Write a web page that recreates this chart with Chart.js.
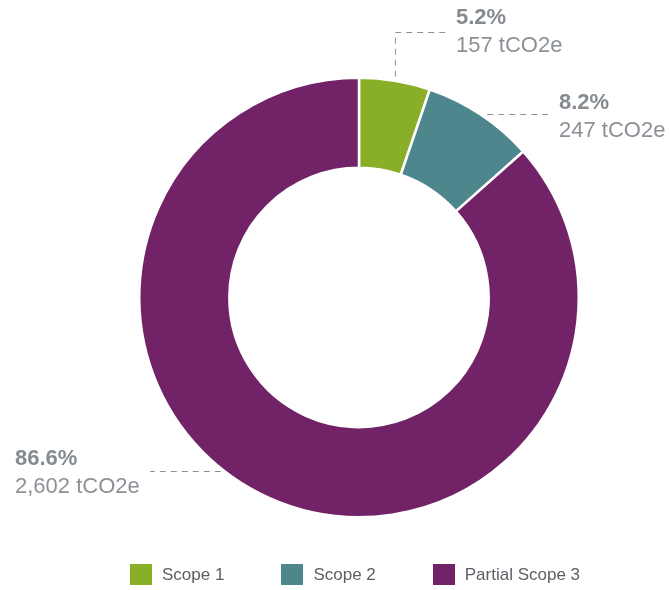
<!DOCTYPE html>
<html>
<head>
<meta charset="utf-8">
<script src="https://cdn.jsdelivr.net/npm/chart.js@4"></script>
<style>
  html, body { margin: 0; padding: 0; background: #fff; }
  #wrap { position: relative; width: 670px; height: 590px; }
  #legend { position: absolute; left: 130px; top: 564px; display: flex; gap: 57px;
            font-family: "Liberation Sans", Arial, sans-serif; font-size: 17px; color: #5a5f65; }
  #legend .item { display: flex; align-items: center; }
  #legend .box { width: 22px; height: 21px; margin-right: 10px; }
</style>
</head>
<body>
<div id="wrap">
  <canvas id="scopeChart" width="670" height="590"></canvas>
  <div id="legend"></div>
</div>
<script>
const labels = ["Scope 1", "Scope 2", "Partial Scope 3"];
const emissions = [157, 247, 2602];
const percentLabels = ["5.2%", "8.2%", "86.6%"];
const amountLabels = ["157 tCO2e", "247 tCO2e", "2,602 tCO2e"];
const colors = ["#89ae27", "#4d868c", "#722368"];

const textGray = "#8b9197";

// draws the callouts (dashed leader + two-line label) for each slice
const calloutPlugin = {
    id: "callouts",
    afterDraw(chart) {
        const ctx = chart.ctx;
        const arcs = chart.getDatasetMeta(0).data;
        ctx.save();
        ctx.strokeStyle = textGray;
        ctx.lineWidth = 1;
        ctx.setLineDash([6, 5]);

        arcs.forEach((arc, i) => {
            const { x, y, startAngle, endAngle, outerRadius } = arc.getProps(["x", "y", "startAngle", "endAngle", "outerRadius"], true);
            const mid = (startAngle + endAngle) / 2;
            let tx, ty;
            ctx.beginPath();
            if (i === 0) {
                // up from the middle of the slice, then right
                const px = x + Math.cos(mid) * outerRadius;
                const py = y + Math.sin(mid) * outerRadius;
                ctx.moveTo(px + 0.5, py - 4);
                ctx.lineTo(px + 0.5, 32.5);
                ctx.lineTo(448, 32.5);
                tx = 456; ty = 24;
            } else if (i === 1) {
                const px = x + Math.cos(mid) * (outerRadius + 12);
                const py = y + Math.sin(mid) * outerRadius;
                ctx.moveTo(px, Math.round(py) + 0.5);
                ctx.lineTo(549, Math.round(py) + 0.5);
                tx = 559; ty = 109;
            } else {
                // horizontal at a fixed height, ending on the ring edge
                const ly = 471.5;
                const dx = Math.sqrt(outerRadius * outerRadius - (ly - y) * (ly - y));
                ctx.moveTo(x - dx - 4, ly);
                ctx.lineTo(150, ly);
                tx = 15; ty = 465;
            }
            ctx.stroke();

            ctx.textAlign = "left";
            ctx.textBaseline = "alphabetic";
            ctx.fillStyle = "#858b91";
            ctx.font = "bold 22px 'Liberation Sans', Arial, sans-serif";
            ctx.fillText(percentLabels[i], tx, ty);
            ctx.fillStyle = textGray;
            ctx.font = "22px 'Liberation Sans', Arial, sans-serif";
            ctx.fillText(amountLabels[i], tx, ty + 28);
        });
        ctx.restore();
    }
};

new Chart(document.getElementById("scopeChart"), {
    type: "doughnut",
    data: {
        labels: labels,
        datasets: [{
            data: emissions,
            backgroundColor: colors,
            borderColor: "#ffffff",
            borderWidth: 2.5,
            hoverOffset: 0
        }]
    },
    options: {
        responsive: false,
        animation: false,
        cutout: "59%",
        layout: { padding: { top: 76, bottom: 71, left: 138, right: 90 } },
        plugins: {
            legend: { display: false },
            tooltip: { enabled: false }
        }
    },
    plugins: [calloutPlugin]
});

// html legend under the ring
const legendEl = document.getElementById("legend");
labels.forEach((lab, i) => {
    const item = document.createElement("div");
    item.className = "item";
    item.innerHTML = '<span class="box" style="background:' + colors[i] + '"></span><span>' + lab + '</span>';
    legendEl.appendChild(item);
});
</script>
</body>
</html>
